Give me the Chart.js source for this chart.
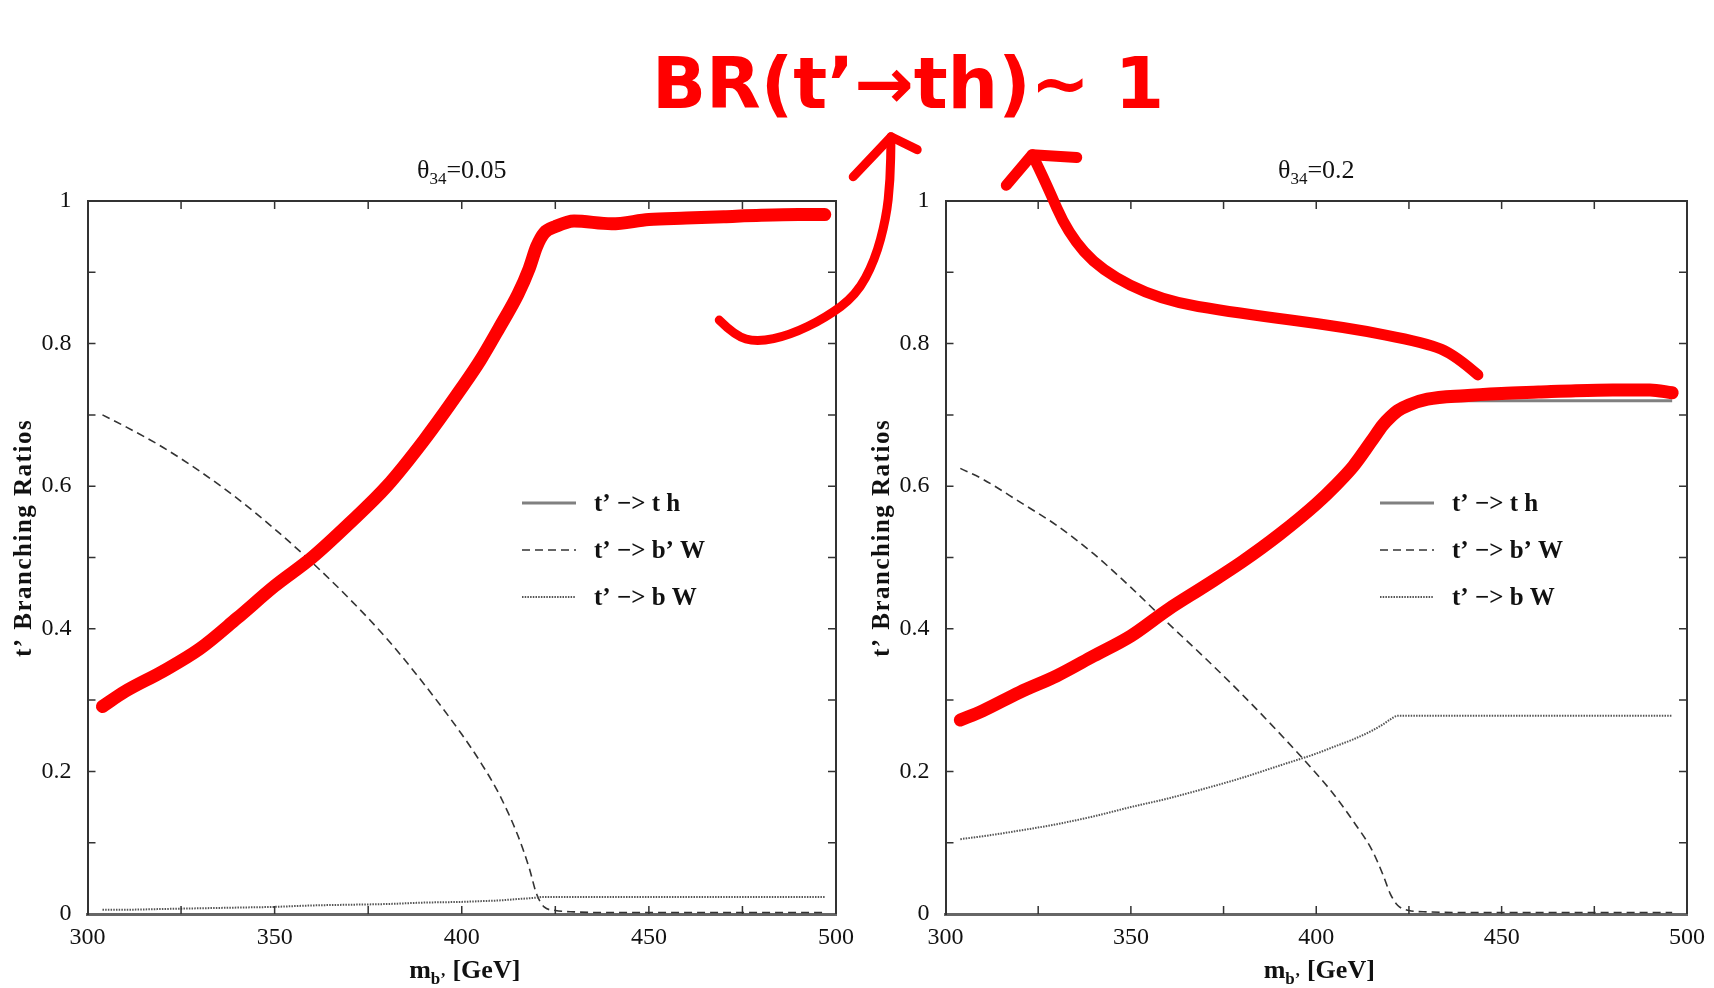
<!DOCTYPE html>
<html>
<head>
<meta charset="utf-8">
<script src="https://cdn.jsdelivr.net/npm/chart.js@4.4.1/dist/chart.umd.min.js"></script>
<style>
  html, body { margin:0; padding:0; background:#fff; width:1714px; height:988px; overflow:hidden; position:relative; }
  #c1 { position:absolute; left:0; top:0; }
  #c2 { position:absolute; left:858px; top:0; }
  #note { position:absolute; left:652px; top:48px; font:bold 71px 'DejaVu Sans', sans-serif; line-height:71px;
          color:#ff0000; white-space:nowrap; }
</style>
</head>
<body>
<canvas id="c1" width="960" height="988"></canvas>
<canvas id="c2" width="856" height="988"></canvas>
<div id="note">BR(t’→th)~ 1</div>
<script>
// ---------------- data ----------------
const mbL  = [304,310,320,330,340,350,360,370,380,390,400,405,410,415,418,420,422,425,430,440,450,460,470,480,490,497];
const thL  = [0.293,0.311,0.340,0.372,0.414,0.459,0.500,0.548,0.600,0.665,0.738,0.777,0.822,0.869,0.905,0.935,0.953,0.962,0.968,0.970,0.972,0.973,0.974,0.974,0.974,0.974];
const bpWL = [0.700,0.684,0.655,0.621,0.583,0.540,0.493,0.442,0.386,0.322,0.252,0.213,0.168,0.110,0.065,0.028,0.010,0.005,0.003,0.002,0.002,0.002,0.002,0.002,0.002,0.002];
const bWL  = [0.006,0.006,0.007,0.008,0.009,0.010,0.012,0.013,0.014,0.016,0.017,0.018,0.019,0.021,0.022,0.023,0.024,0.024,0.024,0.024,0.024,0.024,0.024,0.024,0.024,0.024];
const redL = [0.291,0.312,0.340,0.372,0.415,0.460,0.500,0.548,0.600,0.665,0.738,0.777,0.822,0.869,0.905,0.936,0.955,0.964,0.972,0.968,0.974,0.976,0.978,0.980,0.981,0.981];

const mbR  = [304,310,320,330,340,350,360,370,380,390,400,405,410,415,418,420,422,425,430,440,450,460,470,480,490,496];
const thR  = [0.270,0.284,0.308,0.332,0.360,0.389,0.425,0.459,0.493,0.530,0.574,0.598,0.626,0.660,0.682,0.697,0.708,0.716,0.719,0.720,0.720,0.720,0.720,0.720,0.720,0.720];
const bpWR = [0.625,0.610,0.578,0.545,0.505,0.458,0.408,0.359,0.308,0.254,0.197,0.166,0.130,0.090,0.055,0.028,0.012,0.005,0.003,0.002,0.002,0.002,0.002,0.002,0.002,0.002];
const bWR  = [0.105,0.109,0.117,0.126,0.137,0.150,0.162,0.176,0.191,0.208,0.225,0.235,0.245,0.257,0.266,0.273,0.278,0.278,0.278,0.278,0.278,0.278,0.278,0.278,0.278,0.278];
const redR = [0.272,0.285,0.311,0.334,0.362,0.390,0.427,0.460,0.494,0.532,0.575,0.600,0.628,0.664,0.686,0.697,0.706,0.714,0.722,0.727,0.730,0.732,0.734,0.735,0.735,0.731];

const seriesLabels = ["t’ −> t h", "t’ −> b’ W", "t’ −> b W"];
const panelTitles = [{main:"θ", sub:"34", rest:"=0.05"}, {main:"θ", sub:"34", rest:"=0.2"}];
const xRange = [300, 500], yRange = [0, 1];

// hand-drawn red arrows, in each panel's data units
const arrowL = { path: [[468.8,0.833],[473.0,0.811],[478.9,0.802],[487.7,0.812],[497.1,0.836],[505.4,0.868],[510.4,0.917],[513.4,0.976],[514.5,1.029],[514.7,1.090]],
                 head: [[504.6,1.034],[514.7,1.090],[521.7,1.072]], width: 9 };
const arrowR = { path: [[443.6,0.756],[437.5,0.784],[429.7,0.801],[407.8,0.823],[378.4,0.843],[357.9,0.861],[341.8,0.903],[333.0,0.955],[327.1,1.025],[323.4,1.065]],
                 head: [[316.4,1.022],[323.4,1.065],[335.4,1.061]], width: 11 };

// ---------------- helpers ----------------
const SERIF = "'Liberation Serif', 'Times New Roman', serif";
function pts(xs, ys) { return xs.map((x, i) => ({x, y: ys[i]})); }

function smoothStroke(ctx, p) {
  ctx.beginPath();
  ctx.moveTo(p[0][0], p[0][1]);
  for (let i = 1; i < p.length - 1; i++) {
    const mx = (p[i][0] + p[i+1][0]) / 2, my = (p[i][1] + p[i+1][1]) / 2;
    ctx.quadraticCurveTo(p[i][0], p[i][1], mx, my);
  }
  ctx.lineTo(p[p.length-1][0], p[p.length-1][1]);
  ctx.stroke();
}

const decor = {
  id: 'decor',
  afterDraw(chart, args, o) {
    const {ctx, chartArea: a, scales: {x, y}} = chart;
    ctx.save();
    // top and right frame
    ctx.strokeStyle = '#333'; ctx.lineWidth = 2; ctx.setLineDash([]);
    ctx.beginPath();
    ctx.moveTo(a.left, a.top); ctx.lineTo(a.right, a.top); ctx.lineTo(a.right, a.bottom);
    ctx.stroke();
    // inward ticks on all four sides
    ctx.lineWidth = 1.5; ctx.strokeStyle = '#333';
    ctx.beginPath();
    for (let v = xRange[0] + 25; v < xRange[1]; v += 25) {
      const px = x.getPixelForValue(v);
      ctx.moveTo(px, a.bottom); ctx.lineTo(px, a.bottom - 8);
      ctx.moveTo(px, a.top); ctx.lineTo(px, a.top + 8);
    }
    for (let k = 1; k < 10; k++) {
      const py = y.getPixelForValue(k / 10);
      ctx.moveTo(a.left, py); ctx.lineTo(a.left + 8, py);
      ctx.moveTo(a.right, py); ctx.lineTo(a.right - 8, py);
    }
    ctx.stroke();

    ctx.fillStyle = '#111';
    // panel title with subscript
    const t = o.title;
    const cx = (a.left + a.right) / 2;
    ctx.font = `26px ${SERIF}`;
    const w1 = ctx.measureText(t.main).width, w3 = ctx.measureText(t.rest).width;
    ctx.font = `17px ${SERIF}`;
    const w2 = ctx.measureText(t.sub).width;
    let sx = cx - (w1 + w2 + w3) / 2;
    const tb = a.top - 23;
    ctx.textBaseline = 'alphabetic'; ctx.textAlign = 'left';
    ctx.font = `26px ${SERIF}`; ctx.fillText(t.main, sx, tb); sx += w1;
    ctx.font = `17px ${SERIF}`; ctx.fillText(t.sub, sx, tb + 6); sx += w2;
    ctx.font = `26px ${SERIF}`; ctx.fillText(t.rest, sx, tb);

    // x-axis title m_b' [GeV]
    ctx.font = `bold 26px ${SERIF}`;
    const m1 = ctx.measureText('m').width, m3 = ctx.measureText(' [GeV]').width;
    ctx.font = `bold 17px ${SERIF}`;
    const m2 = ctx.measureText('b’').width;
    let xx = cx + 3 - (m1 + m2 + m3) / 2;
    const xb = a.bottom + 64;
    ctx.font = `bold 26px ${SERIF}`; ctx.fillText('m', xx, xb); xx += m1;
    ctx.font = `bold 17px ${SERIF}`; ctx.fillText('b’', xx, xb + 6); xx += m2;
    ctx.font = `bold 26px ${SERIF}`; ctx.fillText(' [GeV]', xx, xb);

    // y-axis title (rotated)
    ctx.save();
    ctx.translate(a.left - 56.5, a.top + 337);
    ctx.rotate(-Math.PI / 2);
    ctx.textAlign = 'center'; ctx.textBaseline = 'alphabetic';
    ctx.font = `bold 25px ${SERIF}`;
    if ('letterSpacing' in ctx) ctx.letterSpacing = '1.5px';
    ctx.fillText("t’ Branching Ratios", 0, 0);
    ctx.restore();

    // legend built from the datasets' own styles
    const legendDs = chart.data.datasets.filter(d => !d.highlight);
    legendDs.forEach((d, i) => {
      const ly = a.top + 302 + i * 47;
      ctx.strokeStyle = d.borderColor; ctx.lineWidth = d.borderWidth;
      ctx.setLineDash(d.borderDash || []);
      ctx.beginPath(); ctx.moveTo(a.left + 434.5, ly); ctx.lineTo(a.left + 488.5, ly); ctx.stroke();
      ctx.setLineDash([]);
      ctx.fillStyle = '#111'; ctx.font = `bold 25px ${SERIF}`;
      ctx.textAlign = 'left'; ctx.textBaseline = 'middle';
      ctx.fillText(d.label, a.left + 506.5, ly + 2);
    });

    // red hand-drawn arrow
    const ar = o.arrow;
    const toPx = p => [x.getPixelForValue(p[0]), y.getPixelForValue(p[1])];
    ctx.strokeStyle = '#ff0000'; ctx.lineWidth = ar.width;
    ctx.lineCap = 'round'; ctx.lineJoin = 'round';
    smoothStroke(ctx, ar.path.map(toPx));
    const h = ar.head.map(toPx);
    ctx.beginPath(); ctx.moveTo(h[0][0], h[0][1]); ctx.lineTo(h[1][0], h[1][1]); ctx.lineTo(h[2][0], h[2][1]); ctx.stroke();
    ctx.restore();
  }
};

function makePanel(canvasId, mb, th, bpW, bW, red, title, arrow) {
  const cw = document.getElementById(canvasId).width;
  return new Chart(document.getElementById(canvasId), {
    type: 'line',
    data: {
      datasets: [
        { label: 'highlight', highlight: true, data: pts(mb, red), borderColor: '#ff0000', borderWidth: 13,
          borderCapStyle: 'round', borderJoinStyle: 'round', order: 0 },
        { label: seriesLabels[0], data: pts(mb, th), borderColor: '#808080', borderWidth: 3, order: 3 },
        { label: seriesLabels[1], data: pts(mb, bpW), borderColor: '#333333', borderWidth: 1.6, borderDash: [8, 5], order: 2 },
        { label: seriesLabels[2], data: pts(mb, bW), borderColor: '#555555', borderWidth: 2, borderDash: [1.5, 1.2], order: 1 }
      ]
    },
    options: {
      responsive: false, animation: false, devicePixelRatio: 1,
      layout: { padding: { left: 0, right: cw - 836, top: 201, bottom: 0 } },
      elements: { point: { radius: 0 }, line: { cubicInterpolationMode: 'monotone', fill: false } },
      plugins: { legend: { display: false }, tooltip: { enabled: false },
                 decor: { title, arrow } },
      scales: {
        x: { type: 'linear', min: xRange[0], max: xRange[1],
             grid: { display: false, drawTicks: false },
             border: { display: true, color: '#666', width: 3 },
             ticks: { stepSize: 50, padding: 9, color: '#111', font: { family: SERIF, size: 24 } },
             afterFit(s) { s.height = 74; } },
        y: { type: 'linear', min: yRange[0], max: yRange[1],
             grid: { display: false, drawTicks: false },
             border: { display: true, color: '#333', width: 2 },
             ticks: { stepSize: 0.2, padding: 16, color: '#111', font: { family: SERIF, size: 24 },
                      callback: v => String(Number(v.toFixed(1))) },
             afterFit(s) { s.width = 87.5; } }
      }
    },
    plugins: [decor]
  });
}

makePanel('c1', mbL, thL, bpWL, bWL, redL, panelTitles[0], arrowL);
makePanel('c2', mbR, thR, bpWR, bWR, redR, panelTitles[1], arrowR);
</script>
</body>
</html>
